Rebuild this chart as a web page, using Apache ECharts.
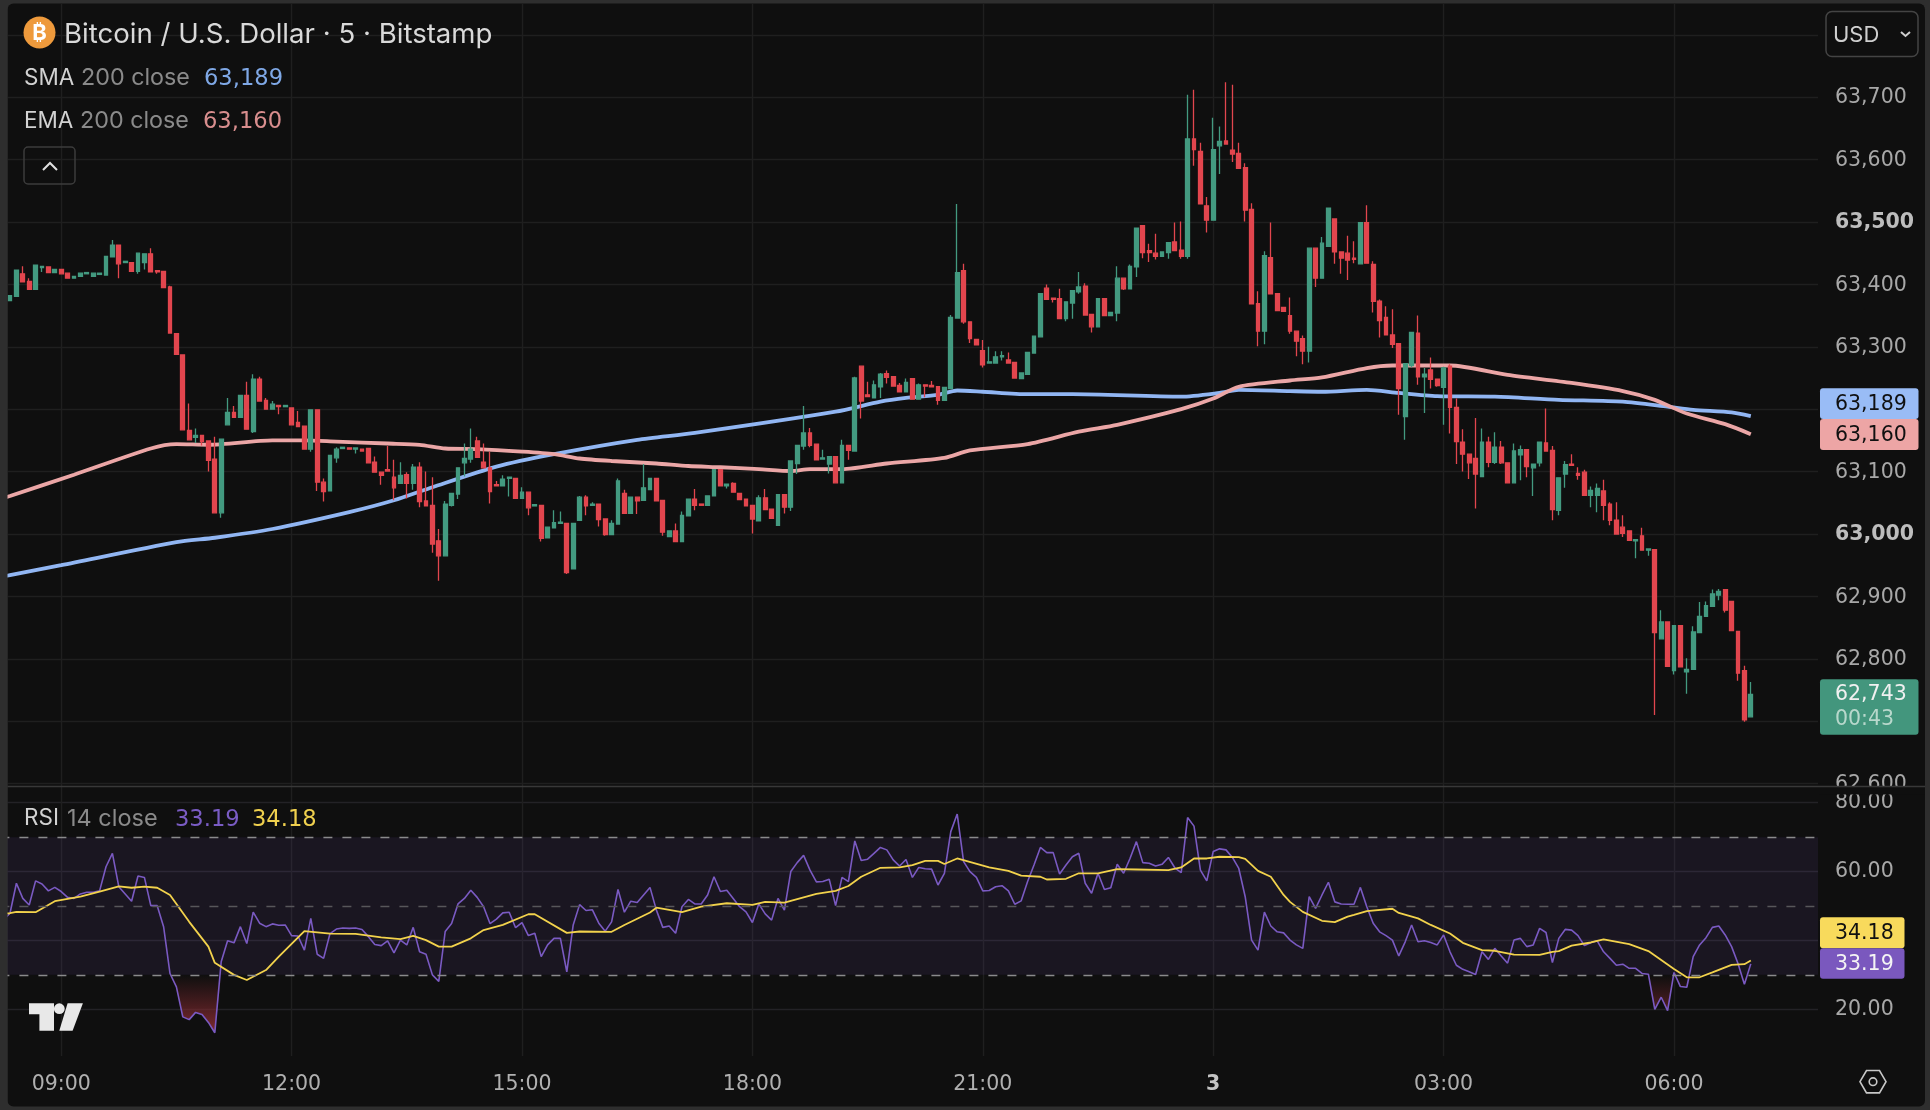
<!DOCTYPE html>
<html>
<head>
<meta charset="utf-8">
<style>html,body{margin:0;padding:0;background:#2e2e2e;overflow:hidden}#c{width:1930px;height:1110px}</style>
<script src="https://cdn.jsdelivr.net/npm/echarts@6/dist/echarts.min.js"></script>
</head>
<body>
<div id="c"></div>
<script>
const opens=[63374,63381,63417,63405,63392,63427,63428,63419,63424,63418,
63410,63413,63417,63413,63416,63415,63444,63463,63435,63435,
63421,63435,63449,63422,63421,63396,63321,63287,63166,63155,
63158,63149,63120,63034,63175,63195,63187,63222,63164,63248,
63214,63200,63206,63204,63202,63179,63173,63136,63199,63083,
63069,63122,63137,63138,63136,63136,63137,63115,63099,63103,
63091,63081,63095,63081,63107,63053,63046,62989,62965,63046,
63064,63114,63120,63149,63115,63106,63079,63077,63089,63089,
63057,63067,63045,63046,62994,63010,63017,63017,62944,63022,
63059,63046,63048,63024,62999,63016,63065,63033,63059,63054,
63071,63089,63054,62996,63005,62988,63029,63056,63048,63046,
63061,63103,63077,63081,63065,63056,63046,63021,63058,63040,
63014,63063,63043,63113,63141,63162,63144,63120,63112,63124,
63082,63142,63133,63269,63223,63218,63236,63257,63252,63238,
63228,63249,63216,63239,63238,63236,63214,63233,63346,63422,
63340,63312,63294,63274,63274,63284,63279,63275,63249,63256,
63290,63316,63394,63378,63377,63345,63370,63388,63397,63352,
63332,63377,63350,63354,63410,63393,63428,63494,63454,63450,
63445,63451,63468,63455,63445,63633,63613,63526,63503,63622,
63630,63615,63610,63587,63520,63369,63325,63443,63385,63363,
63350,63325,63313,63293,63458,63410,63461,63505,63452,63450,
63442,63433,63499,63432,63373,63347,63319,63305,63188,63270,
63322,63252,63263,63248,63235,63269,63203,63147,63128,63121,
63092,63147,63115,63139,63114,63082,63127,63135,63106,63114,
63146,63134,63038,63096,63112,63097,63099,63062,63062,63069,
63048,63022,63011,63005,62989,62997,62974,62975,62832,62859,
62781,62853,62779,62783,62842,62868,62884,62902,62911,62892,
62844,62781,62707];
const closes=[63382,63423,63404,63392,63431,63429,63419,63424,63417,63410,
63413,63418,63419,63418,63418,63445,63463,63433,63437,63421,
63450,63449,63420,63420,63395,63322,63288,63167,63151,63158,
63148,63118,63034,63152,63195,63187,63222,63168,63248,63213,
63200,63208,63204,63206,63175,63172,63136,63199,63083,63068,
63126,63136,63139,63136,63138,63133,63114,63099,63094,63101,
63074,63094,63081,63107,63052,63045,62984,62965,63048,63065,
63106,63121,63136,63123,63106,63068,63077,63088,63091,63057,
63067,63042,63047,62993,63011,63018,63019,62938,63017,63059,
63045,63048,63023,62999,63017,63085,63033,63059,63053,63074,
63089,63053,63003,63005,62988,63030,63056,63046,63046,63061,
63103,63077,63080,63067,63055,63045,63024,63058,63039,63025,
63063,63043,63117,63142,63162,63142,63119,63122,63124,63082,
63142,63134,63250,63213,63220,63239,63256,63251,63237,63228,
63243,63216,63239,63237,63236,63214,63235,63347,63419,63340,
63313,63303,63271,63276,63284,63286,63274,63250,63258,63291,
63317,63385,63376,63376,63345,63372,63390,63396,63351,63332,
63377,63350,63355,63410,63393,63429,63490,63451,63451,63445,
63452,63467,63454,63445,63633,63616,63529,63503,63616,63629,
63625,63609,63586,63519,63369,63325,63446,63385,63358,63357,
63325,63309,63293,63458,63410,63466,63522,63452,63442,63439,
63440,63499,63434,63373,63342,63319,63304,63233,63273,63323,
63252,63256,63248,63238,63266,63203,63148,63128,63114,63096,
63147,63115,63139,63114,63082,63133,63135,63108,63112,63147,
63133,63039,63090,63111,63110,63094,63062,63070,63073,63046,
63022,63000,63001,62990,62991,62974,62976,62842,62859,62788,
62853,62787,62783,62843,62868,62885,62904,62908,62878,62845,
62777,62702,62743];
const lows=[63374,63381,63404,63392,63392,63420,63419,63419,63417,63410,
63410,63413,63417,63413,63416,63415,63444,63410,63435,63420,
63417,63424,63420,63417,63395,63322,63288,63167,63151,63146,
63142,63100,63034,63026,63175,63187,63187,63167,63162,63213,
63200,63200,63192,63204,63175,63172,63136,63132,63069,63052,
63069,63114,63137,63136,63129,63133,63114,63099,63079,63101,
63054,63081,63057,63071,63043,63044,62970,62925,62965,63044,
63056,63092,63114,63123,63106,63049,63077,63077,63060,63056,
63057,63030,63045,62988,62994,63010,63017,62936,62944,63022,
63030,63046,63012,62997,62998,63016,63033,63033,63032,63054,
63071,63053,62997,62996,62987,62988,63029,63038,63046,63046,
63061,63077,63073,63067,63055,63045,63001,63021,63039,63025,
63014,63033,63037,63096,63135,63139,63119,63120,63097,63081,
63082,63119,63133,63185,63220,63218,63218,63241,63237,63228,
63228,63216,63216,63219,63236,63207,63214,63233,63346,63337,
63306,63303,63267,63274,63274,63278,63274,63250,63249,63256,
63290,63316,63376,63371,63345,63341,63345,63385,63351,63323,
63332,63350,63350,63341,63391,63393,63412,63442,63436,63440,
63445,63441,63454,63441,63441,63590,63529,63483,63503,63577,
63625,63596,63586,63501,63369,63301,63304,63385,63358,63357,
63321,63285,63272,63275,63396,63410,63461,63433,63417,63407,
63434,63433,63434,63355,63315,63319,63298,63191,63151,63267,
63239,63194,63233,63236,63175,63161,63112,63100,63088,63041,
63091,63107,63112,63112,63082,63082,63086,63091,63061,63108,
63133,63022,63030,63074,63110,63087,63062,63043,63035,63022,
63014,63000,62995,62990,62961,62974,62965,62710,62832,62788,
62775,62787,62744,62783,62842,62868,62884,62894,62874,62845,
62765,62699,62707];
const highs=[63382,63424,63429,63410,63431,63429,63428,63424,63424,63418,
63413,63418,63419,63418,63418,63445,63471,63463,63437,63435,
63450,63449,63458,63422,63421,63398,63321,63287,63209,63169,
63158,63149,63156,63152,63218,63205,63222,63244,63256,63252,
63218,63213,63206,63206,63202,63197,63173,63199,63199,63089,
63126,63139,63139,63138,63138,63136,63137,63124,63099,63141,
63119,63115,63099,63112,63115,63100,63091,63008,63053,63065,
63106,63145,63169,63156,63145,63132,63085,63094,63091,63089,
63075,63067,63047,63046,63011,63038,63036,63017,63017,63061,
63062,63051,63048,63024,63022,63089,63071,63059,63059,63112,
63089,63089,63054,63005,63017,63036,63056,63072,63048,63061,
63103,63103,63080,63083,63065,63057,63046,63062,63072,63040,
63063,63063,63117,63142,63205,63170,63144,63135,63124,63124,
63151,63142,63252,63269,63244,63246,63258,63262,63252,63242,
63249,63249,63241,63239,63245,63236,63235,63351,63529,63433,
63340,63312,63311,63300,63293,63293,63291,63275,63258,63291,
63317,63385,63400,63378,63393,63372,63390,63420,63402,63352,
63377,63377,63355,63429,63410,63432,63491,63494,63465,63481,
63453,63467,63499,63501,63704,63712,63627,63540,63667,63653,
63724,63720,63627,63594,63530,63389,63453,63499,63385,63363,
63379,63325,63318,63458,63458,63476,63522,63505,63452,63478,
63469,63499,63527,63437,63376,63365,63360,63305,63273,63323,
63350,63266,63283,63248,63268,63272,63217,63168,63128,63186,
63169,63156,63163,63149,63114,63145,63142,63135,63112,63148,
63201,63141,63090,63117,63128,63107,63103,63076,63081,63087,
63051,63051,63030,63005,62991,63010,62976,62975,62878,62859,
62853,62853,62801,62852,62891,62892,62911,62912,62912,62892,
62844,62789,62763];

// index -1 is the part of a line that runs on to the left edge of the pane
const smaIdx=[-1,0,8,26,32,41,53,60,66,76,85,98,107,129,136,140,145,148,152,159,166,183,189,192,200,205,212,217,223,232,242,252,259,263,269,272];
const smaVal=[62932,62934,62950,62987,62994,63008,63035,63054,63075,63108,63128,63151,63162,63196,63212,63218,63223,63230,63228,63224,63224,63220,63226,63231,63229,63228,63231,63226,63221,63220,63215,63212,63204,63199,63195,63189];
const emaIdx=[-1,0,10,22,26,31,41,46,51,59,64,68,73,80,85,89,94,101,106,111,117,122,125,130,137,146,150,159,167,173,183,188,192,200,205,212,216,225,234,244,252,257,262,268,272];
const emaVal=[63058,63061,63095,63137,63144,63143,63150,63150,63148,63145,63143,63137,63136,63132,63128,63121,63117,63113,63109,63107,63104,63101,63104,63104,63113,63122,63134,63144,63164,63175,63200,63217,63236,63246,63251,63266,63270,63270,63255,63242,63229,63215,63193,63176,63160];

const rsiBeforeFirst=46;
const rsi=[47.9,56.6,52.2,50.3,57.3,56.4,54.4,55.4,54.2,52.5,
52.2,53.5,54,54,54.4,61.4,65.3,55.6,53.5,51.4,
58.7,58.3,50.1,50.1,44,30.4,26.5,17.8,17,19.1,
18.5,16.2,13.2,33.8,39.9,39.3,44,39.1,48.2,45,
44,44.8,44.4,44.5,41.4,41.3,37.2,46.4,36,34.8,
42,43.3,43.6,43.5,43.6,43.2,41.1,38.8,38.5,39.9,
36.4,40.1,38.7,43.8,36.7,36,30,28.1,42.6,44.9,
50.6,52.2,54.6,52.5,49.8,44.9,46.2,48,48.2,43.7,
45.2,41.4,42.1,35.3,38.7,40.6,40.6,30.9,44.5,50.4,
48.7,48.9,45,42.7,45.4,54.8,48.2,51.4,51,53.2,
55.4,48.8,43.8,44.2,42.1,49.8,51.9,50.6,50.6,53.2,
58.5,54.2,54.6,52.2,49.8,48.3,45.2,50.6,47.7,45.9,
52.2,48.8,60,62.6,64.7,60.4,57,57.1,57.8,50.1,
58.3,57.1,68.9,63.2,63.6,65.3,67,66.3,63.4,61.6,
63.5,58.3,61.2,60.8,60.7,56.1,59.5,71.6,76.7,62.9,
60,58.3,54.4,54.5,55.6,55.9,54.4,50.5,51.5,57.1,
61.9,67,65.5,65.5,59.3,61.9,64.3,65.3,56.6,53.7,
59.5,54.8,55.3,62.1,59.5,63.8,68.7,62.6,62.4,61.6,
62.1,64.1,61.1,59.7,75.7,73.2,60.4,57.3,65.8,66.6,
66.3,64.1,60.9,52.7,40.1,37.2,48.2,44.2,42.5,42.2,
40.1,38.7,37.7,52.7,49.3,53.2,56.9,51.2,50.6,50.5,
50.5,55.4,49.8,45,42.5,41.4,40.1,35.5,39.6,44.5,
39.6,39.9,39.4,38.7,41.6,36.7,32.8,31.6,30.9,30.1,
36.7,34.5,37.7,35.5,33.4,40.1,40.6,38.2,38.7,43.5,
42.3,33.6,40.6,43.2,43,41.4,38.5,39.3,39.9,36.7,
34.8,32.8,33.1,31.9,31.9,30.4,30.2,20,23.5,19.6,
30.7,26.6,26.4,35.3,38.7,40.8,43.8,44.2,41.6,38.2,
33.3,27.3,33.19];
const rsiMaIdx=[-1,0,1,4,7,11,14,17,19,21,23,25,28,31,32,35,37,40,42,46,50,54,58,61,63,65,67,69,72,74,77,81,82,87,89,94,96,100,101,105,108,112,116,118,121,126,129,131,133,136,139,141,143,145,146,148,153,156,158,161,162,165,167,170,173,176,181,183,185,187,189,192,193,195,197,199,200,202,205,207,209,210,212,216,217,220,222,225,227,230,232,235,239,241,242,244,247,249,253,256,260,262,264,266,269,271,272];
const rsiMaVal=[47.8,47.9,48.3,48.2,51.4,52.7,54.2,55.7,55.3,55.6,55.3,53.2,45.4,38.2,33.5,30,28.5,31.4,35.3,42.7,42,41.9,40.9,40.4,41.3,40.1,38.2,38.2,40.6,43,44.5,47.6,47.6,42.2,42.6,42.5,44.5,48.1,49.5,48.2,49.8,50.8,50.3,51.2,51,53.5,54.4,55.8,58.5,61.1,61.2,61.9,63.1,63.1,62.2,63.8,61.2,60.2,58.8,58.5,57.7,57.9,59.5,59.5,60.7,60.6,60.4,61.2,63.8,63.8,64.3,64.2,63.7,60.2,58.5,53.2,51.2,48.3,45.7,45.3,46.9,47.4,48.5,49.2,48,46.4,44.5,42,39.3,37.2,37,35.9,35.8,36.7,36.9,38.5,39.4,40.3,38.9,36.9,31.7,29.3,29.3,30.7,32.9,33.1,34.18];

const tickIndex=[8,44,80,116,152,188,224,260];
const tickNames=['09:00','12:00','15:00','18:00','21:00','3','03:00','06:00'];
const rsiLevels=[70,50,30];

const BAR=6.4, LEAD=1, EXTRA=10;
const total=LEAD+opens.length+EXTRA;
const shownTicks=tickIndex.map(i=>i+LEAD);
const cats=Array.from({length:total},(_,i)=>{const k=shownTicks.indexOf(i);return k>=0?tickNames[k]:String(i);});
const candles=[['-','-','-','-']].concat(opens.map((o,i)=>[o,closes[i],lows[i],highs[i]]));
const pairs=(a,b)=>a.map((x,k)=>[x+LEAD,b[k]]);
const rsiFull=[rsiBeforeFirst].concat(rsi);
const FONT='Inter, "Noto Sans", sans-serif';
const NUM='"DejaVu Sans", sans-serif';
const fmtPrice=v=>String(v).replace(/(\d{2})(\d{3})$/,'$1,$2');

const PANEL='#0f0f0f', GRID='#1f1f1f';
const txt=(x,y,s,fill,size,o)=>({type:'text',z:20,silent:true,style:{x,y,text:s,fill,font:((o&&o.w)?o.w+' ':'')+size+'px '+((o&&o.f)||FONT),textVerticalAlign:'middle',textAlign:(o&&o.a)||'left'}});
const tag=(x,y,w,h,bg,fg,lines)=>{
  const out=[{type:'rect',z:15,silent:true,shape:{x,y,width:w,height:h,r:3},style:{fill:bg}}];
  lines.forEach(l=>out.push(txt(1835,l[1],l[0],l[2]||fg,20.5,{f:NUM})));
  return out;
};

const graphic=[
 {type:'rect',z:-10,silent:true,shape:{x:7.5,y:3.5,width:1917.5,height:1103,r:6},style:{fill:PANEL}},
 {type:'rect',z:30,silent:true,shape:{x:0,y:0,width:7.5,height:1110},style:{fill:'#2e2e2e'}},
 // header
 {type:'circle',z:20,silent:true,shape:{cx:39.5,cy:32.5,r:16},style:{fill:'#ee9a3c'}},
 txt(39.5,33,'₿','#ffffff',22,{a:'center',w:'bold'}),
 txt(64,34.5,'Bitcoin / U.S. Dollar · 5 · Bitstamp','#d9d9d9',27.6),
 txt(24,78,'SMA','#d2d2d2',22.5), txt(81,78,'200 close','#8a8a8a',23.3), txt(204,79.5,'63,189','#7fa8e6',22.6,{f:NUM}),
 txt(24,121,'EMA','#d2d2d2',22.5), txt(80,121,'200 close','#8a8a8a',23.3), txt(203,122.5,'63,160','#d98e8e',22.6,{f:NUM}),
 {type:'rect',z:20,silent:true,shape:{x:24,y:147,width:51,height:37,r:4},style:{fill:'transparent',stroke:'#3c3c3c',lineWidth:1.5}},
 {type:'polyline',z:20,silent:true,shape:{points:[[43,170],[50,163],[57,170]]},style:{fill:'none',stroke:'#e0e0e0',lineWidth:2}},
 // currency box
 {type:'rect',z:20,silent:true,shape:{x:1826,y:11.5,width:92,height:45,r:6},style:{fill:'transparent',stroke:'#444444',lineWidth:1.5}},
 txt(1833,35,'USD','#cfcfcf',22),
 {type:'polyline',z:20,silent:true,shape:{points:[[1901,32],[1905.5,36],[1910,32]]},style:{fill:'none',stroke:'#cfcfcf',lineWidth:2}},
 // pane separator + clip for the 62,600 label
 {type:'rect',z:12,silent:true,shape:{x:1819,y:786.5,width:106,height:8},style:{fill:PANEL}},
 {type:'line',z:13,silent:true,shape:{x1:7.5,y1:786.5,x2:1925,y2:786.5},style:{stroke:'#383838',lineWidth:1.5}},
 // RSI legend
 txt(24,818.5,'RSI','#d2d2d2',22.5), txt(67,818.5,'14 close','#8a8a8a',23.5), txt(175,820,'33.19','#7a5cc4',22.6,{f:NUM}), txt(252,820,'34.18','#efd04e',22.6,{f:NUM}),
 // logo
 {type:'polygon',z:20,silent:true,shape:{points:[[29,1003.3],[54,1003.3],[54,1030.7],[39.4,1030.7],[39.4,1014.3],[29,1014.3]]},style:{fill:'#e8e8e8'}},
 {type:'circle',z:20,silent:true,shape:{cx:59.3,cy:1008.7,r:5.4},style:{fill:'#e8e8e8'}},
 {type:'polygon',z:20,silent:true,shape:{points:[[67.6,1003.3],[82.9,1003.3],[72.6,1030.7],[59.3,1030.7]]},style:{fill:'#e8e8e8'}},
 // settings hexagon
 {type:'polygon',z:20,silent:true,shape:{points:[[1860,1081.7],[1866.5,1070.5],[1879.5,1070.5],[1886,1081.7],[1879.5,1092.9],[1866.5,1092.9]]},style:{fill:'transparent',stroke:'#c8c8c8',lineWidth:1.6}},
 {type:'circle',z:20,silent:true,shape:{cx:1873,cy:1081.7,r:3.8},style:{fill:'transparent',stroke:'#c8c8c8',lineWidth:1.6}},
 ...tag(1820,388.3,98.5,30.7,'#99bcf6','#101010',[['63,189',404.8]]),
 ...tag(1820,419,98.5,31,'#eda5a5','#101010',[['63,160',435.7]]),
 ...tag(1820,679.3,98.5,55.4,'#43967d','#f0f0f0',[['62,743',694.7],['00:43',719.7,'#b8d8cc']]),
 ...tag(1820,917.3,84.5,31,'#f8da5c','#101010',[['34.18',934]]),
 ...tag(1820,948.3,84.5,30.5,'#7a58be','#f4f4f4',[['33.19',964.7]])
];

const chart=echarts.init(document.getElementById('c'),null,{renderer:'canvas'});
const LEFT=0.4, WIDTH=total*BAR;
const axisFont={fontFamily:NUM,fontSize:20.5};
chart.setOption({
 animation:false,
 backgroundColor:'#2e2e2e',
 graphic:graphic,
 grid:[
  {left:LEFT,width:WIDTH,top:34.8,height:748.8,containLabel:false},
  {left:LEFT,width:WIDTH,top:802.7,height:206.6,containLabel:false},
  {left:LEFT+BAR/2,width:(total-1)*BAR,top:4,height:1052,containLabel:false}
 ],
 xAxis:[
  {type:'category',gridIndex:0,data:cats,show:false,boundaryGap:true},
  {type:'category',gridIndex:1,data:cats,show:false,boundaryGap:true},
  {type:'category',gridIndex:2,data:cats,boundaryGap:false,
   axisLine:{show:false},axisTick:{show:false},
   splitLine:{show:true,interval:(i)=>shownTicks.includes(i),lineStyle:{color:GRID,width:1.4}},
   axisLabel:Object.assign({interval:(i)=>shownTicks.includes(i),margin:18,color:'#b0b0b0',
     formatter:v=>v==='3'?'{b|3}':v,rich:{b:Object.assign({fontWeight:'bold',color:'#c4c4c4'},axisFont)}},axisFont)}
 ],
 yAxis:[
  {type:'value',gridIndex:0,position:'right',min:62600,max:63800,interval:100,scale:true,
   axisLine:{show:false},axisTick:{show:false},
   splitLine:{lineStyle:{color:GRID,width:1.4}},
   axisLabel:Object.assign({align:'left',margin:17,color:'#a8a8a8',padding:[1.6,0,0,0],
     formatter:v=>v===63800?'':(v%500===0?'{b|'+fmtPrice(v)+'}':fmtPrice(v)),
     rich:{b:Object.assign({fontWeight:'bold',color:'#bdbdbd'},axisFont)}},axisFont)},
  {type:'value',gridIndex:1,position:'right',min:20,max:80,interval:20,
   axisLine:{show:false},axisTick:{show:false},
   splitLine:{lineStyle:{color:'#232226',width:1.4}},
   axisLabel:Object.assign({align:'left',margin:17,color:'#a8a8a8',padding:[4,0,0,0],formatter:v=>v.toFixed(2)},axisFont)},
  {type:'value',gridIndex:2,min:0,max:1,show:false}
 ],
 series:[
  {name:'SMA',type:'line',xAxisIndex:0,yAxisIndex:0,data:pairs(smaIdx,smaVal),showSymbol:false,smooth:0.25,z:2,silent:true,
   lineStyle:{color:'#91b6f3',width:3.8}},
  {name:'EMA',type:'line',xAxisIndex:0,yAxisIndex:0,data:pairs(emaIdx,emaVal),showSymbol:false,smooth:0.25,z:2,silent:true,
   lineStyle:{color:'#eba6a6',width:3.8}},
  {name:'BTCUSD',type:'candlestick',xAxisIndex:0,yAxisIndex:0,data:candles,barWidth:4.4,z:3,silent:true,
   itemStyle:{color:'#439a80',color0:'#e2464e',borderColor:'#439a80',borderColor0:'#e2464e',borderWidth:1.3}},
  {name:'RSI oversold fill',type:'line',xAxisIndex:1,yAxisIndex:1,data:rsiFull.map(v=>Math.min(v,30)),showSymbol:false,clip:false,z:1,silent:true,
   lineStyle:{opacity:0,width:0},
   areaStyle:{origin:30,opacity:1,color:new echarts.graphic.LinearGradient(0,975,0,1034,[{offset:0,color:'rgba(125,40,45,0)'},{offset:1,color:'rgba(130,42,48,1)'}],true)}},
  {name:'RSI',type:'line',xAxisIndex:1,yAxisIndex:1,data:rsiFull,showSymbol:false,clip:false,z:3,silent:true,
   lineStyle:{color:'#7a5ac2',width:1.6},
   markArea:{silent:true,itemStyle:{color:'rgba(126,87,194,0.1)'},data:[[{yAxis:rsiLevels[0]},{yAxis:rsiLevels[2]}]]},
   markLine:{silent:true,symbol:'none',label:{show:false},data:[
     {yAxis:rsiLevels[0],lineStyle:{color:'#8a8a8c',type:[9,10],width:1.4}},
     {yAxis:rsiLevels[1],lineStyle:{color:'#57565a',type:[9,10],width:1.4}},
     {yAxis:rsiLevels[2],lineStyle:{color:'#8a8a8c',type:[9,10],width:1.4}}]}},
  {name:'RSI MA',type:'line',xAxisIndex:1,yAxisIndex:1,data:pairs(rsiMaIdx,rsiMaVal),showSymbol:false,clip:false,z:4,silent:true,
   lineStyle:{color:'#f2d24c',width:1.8}}
 ]
});
</script>
</body>
</html>
